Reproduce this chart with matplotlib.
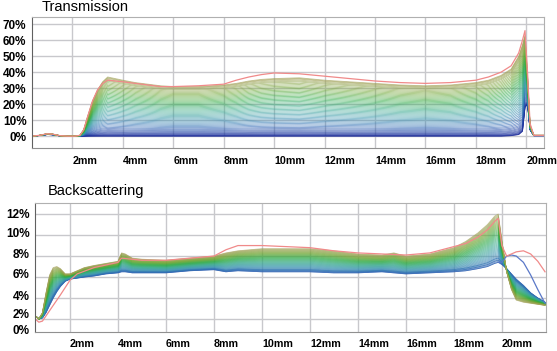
import numpy as np
import matplotlib.pyplot as plt
from matplotlib.colors import LinearSegmentedColormap

plt.rcParams['font.family'] = ['Liberation Sans', 'DejaVu Sans']

# ---- Transmission (%), position in mm ----
t_x = [0.4, 0.7, 1.0, 1.2, 1.5, 1.8, 2.1, 2.3, 2.45, 2.6, 2.8, 3.0, 3.2, 3.4, 3.7, 4.0,
       4.5, 5.0, 5.5, 6.0, 7.0, 8.0, 8.5, 9.0, 9.5, 10.0, 11.0, 12.0, 13.0, 14.0, 15.0,
       16.0, 17.0, 18.0, 18.5, 19.0, 19.4, 19.7, 19.85, 19.95, 20.05, 20.15, 20.3, 20.7]
# first scans (bottom of the fan)
t_first = [0, 0.4, 1.0, 0.9, 0.2, 0, 0, 0, 0, 0, 0, 0, 0, 0, 0, 0,
           0, 0, 0, 0, 0, 0, 0, 0, 0, 0, 0, 0, 0, 0, 0,
           0, 0, 0, 0, 0, 0.3, 1.0, 3.0, 18.0, 20.0, 4.0, 0.3, 0.3]
# last scans (top of the fan)
t_last = [0, 0.5, 1.5, 1.3, 0.3, 0, 0, 0.5, 4.0, 12.0, 22.0, 29.0, 34.0, 37.0, 36.0, 35.0,
          33.5, 32.5, 31.5, 31.0, 31.0, 32.0, 33.0, 34.5, 35.5, 36.0, 36.5, 35.0, 34.0, 33.0, 32.0,
          31.5, 32.0, 33.5, 35.0, 38.0, 42.0, 50.0, 57.0, 63.0, 38.0, 7.0, 0.5, 0.5]
# pink reference curve
t_pink = [0, 0.5, 1.5, 1.3, 0.3, 0, 0, 0.5, 4.0, 12.0, 22.0, 29.0, 33.0, 35.0, 34.5, 34.0,
          33.0, 32.0, 31.0, 31.0, 31.5, 32.5, 35.0, 37.0, 38.5, 39.5, 39.0, 37.5, 36.0, 34.5, 33.5,
          33.0, 33.5, 35.0, 37.0, 40.0, 44.0, 52.0, 60.0, 66.0, 40.0, 8.0, 0.5, 0.5]
# level of each scan at 10 mm (%)
t_levels = [0, 0, 0.2, 0.4, 0.7, 1.0, 1.4, 1.8, 2.3, 2.8, 3.4, 4.0, 4.7, 5.4, 6.2, 7.0,
            7.8, 8.6, 9.4, 10.2, 11.0, 11.8, 12.6, 13.4, 14.2, 15.0, 15.8, 16.6, 17.4, 18.2,
            19.0, 19.8, 20.6, 21.4, 22.2, 23.0, 23.8, 24.6, 25.4, 26.2, 27.0, 27.8, 28.6,
            29.4, 30.2, 31.0, 31.8, 32.6, 33.4, 34.0, 34.6, 35.2, 35.6, 36.0]

# ---- Backscattering (%), position in mm ----
b_x = [0.55, 0.7, 0.85, 1.0, 1.15, 1.3, 1.45, 1.6, 1.8, 2.0, 2.3, 2.6, 3.0, 3.5, 4.0, 4.15,
       4.3, 4.6, 5.0, 6.0, 7.0, 8.0, 8.5, 9.0, 10.0, 11.0, 12.0, 13.0, 14.0, 15.0, 15.5,
       16.0, 17.0, 18.0, 18.5, 19.0, 19.4, 19.7, 19.85, 20.0, 20.2, 20.4, 20.6, 20.9, 21.2,
       21.5, 21.8]
b_first = [2.3, 2.0, 2.1, 2.6, 3.3, 4.0, 4.6, 5.1, 5.6, 5.8, 5.9, 6.0, 6.1, 6.3, 6.4, 6.5,
           6.5, 6.4, 6.4, 6.4, 6.6, 6.7, 6.5, 6.6, 6.5, 6.5, 6.5, 6.4, 6.4, 6.5, 6.4,
           6.3, 6.4, 6.5, 6.6, 6.8, 7.0, 7.3, 7.4, 7.2, 6.8, 6.3, 5.8, 5.2, 4.5,
           4.0, 3.6]
b_last = [2.3, 2.0, 2.6, 4.5, 6.2, 6.9, 7.0, 6.8, 6.3, 6.3, 6.6, 6.9, 7.1, 7.3, 7.5, 8.3,
          8.2, 7.8, 7.7, 7.6, 7.8, 8.0, 8.3, 8.5, 8.7, 8.7, 8.7, 8.5, 8.2, 8.1, 8.3,
          8.0, 8.2, 8.8, 9.4, 10.2, 11.0, 11.8, 12.0, 9.5, 6.5, 4.8, 3.8, 3.6, 3.5,
          3.4, 3.3]
# level of each scan at 12 mm (%)
b_levels = [6.5, 6.5, 6.55, 6.6, 6.6, 6.65, 6.7, 6.7, 6.75, 6.8, 6.85, 6.9, 6.95, 7.0,
            7.05, 7.1, 7.15, 7.2, 7.25, 7.3, 7.35, 7.4, 7.45, 7.5, 7.55, 7.6, 7.65, 7.7,
            7.75, 7.8, 7.85, 7.9, 7.95, 8.0, 8.05, 8.1, 8.15, 8.2, 8.25, 8.3, 8.35, 8.4,
            8.45, 8.5, 8.55, 8.6, 8.65, 8.7]
b_pink_x = [0.55, 0.7, 0.85, 1.0, 1.3, 1.6, 2.0, 2.3, 3.0, 4.0, 4.15, 5.0, 6.0, 7.0, 8.0,
            8.5, 9.0, 10.0, 11.0, 12.0, 13.0, 14.0, 15.0, 16.0, 17.0, 18.0, 18.5, 19.0,
            19.4, 19.7, 19.85, 20.0, 20.2, 20.6, 20.9, 21.2, 21.5, 21.8]
b_pink = [2.0, 1.7, 1.8, 2.3, 3.3, 4.3, 5.7, 6.3, 6.9, 7.4, 7.8, 7.6, 7.6, 7.8, 8.0,
          8.6, 9.0, 9.0, 8.9, 8.8, 8.5, 8.3, 8.2, 8.1, 8.3, 8.9, 9.2, 9.8,
          10.5, 11.3, 11.6, 9.0, 8.0, 8.4, 8.5, 8.2, 7.5, 6.5]
b_blue_x = [19.85, 20.0, 20.2, 20.4, 20.6, 20.9, 21.2, 21.5, 21.8]
b_blue = [7.4, 7.4, 8.0, 8.1, 8.0, 7.4, 6.2, 4.8, 3.5]

mm_ticks = [2, 4, 6, 8, 10, 12, 14, 16, 18, 20]

cmap = LinearSegmentedColormap.from_list(
    'scan', ['#1b2a9a', '#2c64b4', '#3b96b0', '#35a98a', '#2eaa45', '#6fa632', '#a3a25a'])


def style_axes(ax, xlim, ylim):
    ax.set_xlim(*xlim)
    ax.set_ylim(*ylim)
    ax.set_xticks(mm_ticks)
    ax.set_xticklabels([f'{t}mm' for t in mm_ticks], fontsize=7.7, fontweight='bold')
    for lab in ax.get_xticklabels():
        lab.set_horizontalalignment('left')
    ax.tick_params(length=0, pad=4)
    ax.grid(axis='x', color='#c8c8cc', lw=1)
    ax.set_axisbelow(True)
    ax.spines['left'].set_color('#606060')
    ax.spines['bottom'].set_color('#909090')
    ax.spines['top'].set_color('#b0b0b0')
    ax.spines['right'].set_color('#b0b0b0')


fig = plt.figure(figsize=(5.57, 3.51), dpi=100)

# Transmission panel
ax1 = fig.add_axes([0.0575, 0.578, 0.919, 0.373])
t_first_a = np.array(t_first)
t_last_a = np.array(t_last)
ref = t_last[t_x.index(10.0)]
for lvl in t_levels:
    f = lvl / ref
    ax1.plot(t_x, t_first_a + f * (t_last_a - t_first_a), color=cmap(f), lw=0.6, alpha=0.65)
ax1.plot(t_x, t_pink, color='#f08a8a', lw=0.9)
style_axes(ax1, (0.4, 20.7), (-7.5, 74.4))
ax1.set_yticks([0, 10, 20, 30, 40, 50, 60, 70])
ax1.set_yticklabels(['0%', '10%', '20%', '30%', '40%', '50%', '60%', '70%'],
                    fontsize=8.5, fontweight='bold')
ax1.grid(axis='y', color='#c8c8cc', lw=1)
ax1.tick_params(axis='x', pad=6)
fig.text(42 / 557, 1 - 7 / 351, 'Transmission', fontsize=10.5, va='center', ha='left')

# Backscattering panel
ax2 = fig.add_axes([0.0628, 0.054, 0.917, 0.3675])
b_first_a = np.array(b_first)
b_last_a = np.array(b_last)
i12 = b_x.index(12.0)
for lvl in b_levels:
    f = (lvl - b_first[i12]) / (b_last[i12] - b_first[i12])
    ax2.plot(b_x, b_first_a + f * (b_last_a - b_first_a), color=cmap(0.15 + 0.85 * f),
             lw=0.6, alpha=0.65)
ax2.plot(b_blue_x, b_blue, color='#5a78c8', lw=0.9)
ax2.plot(b_pink_x, b_pink, color='#f08a8a', lw=0.9)
style_axes(ax2, (0.54, 21.83), (0.76, 13.05))
for g in [2, 4, 6, 8, 10, 12]:
    ax2.axhline(g, color='#c8c8cc', lw=1, zorder=0)
ax2.set_yticks([1.05, 2.57, 4.2, 6.3, 8.2, 10.2, 12.1])
ax2.set_yticklabels(['0%', '2%', '4%', '6%', '8%', '10%', '12%'],
                    fontsize=8.5, fontweight='bold')
ax2.tick_params(axis='x', pad=5)
fig.text(48 / 557, 1 - 191 / 351, 'Backscattering', fontsize=10.5, va='center', ha='left')

fig.savefig('out.png', dpi=100)
